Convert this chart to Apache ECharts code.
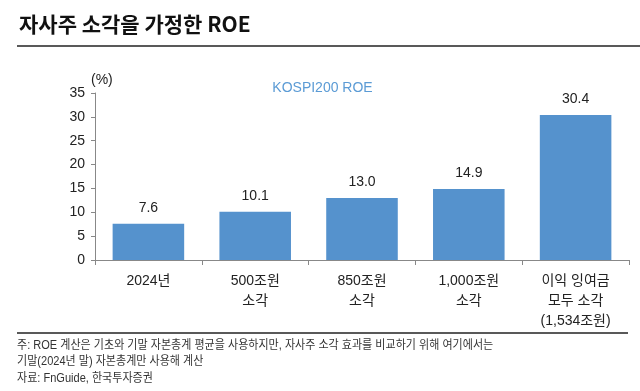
<!DOCTYPE html>
<html><head><meta charset="utf-8">
<script src="https://cdn.jsdelivr.net/npm/echarts@6/dist/echarts.min.js"></script>
<style>html,body{margin:0;padding:0;background:#fff}#c{width:640px;height:391px}</style>
</head><body><div id="c"></div>
<script>
const categories = ['2024년', '500조원\n소각', '850조원\n소각', '1,000조원\n소각', '이익 잉여금\n모두 소각\n(1,534조원)'];
const roeValues = [7.6, 10.1, 13.0, 14.9, 30.4];
const seriesName = 'KOSPI200 ROE';
const yTicks = {min: 0, max: 35, interval: 5};
const titleText = '자사주 소각을 가정한 ROE';
const noteLines = ['주: ROE 계산은 기초와 기말 자본총계 평균을 사용하지만, 자사주 소각 효과를 비교하기 위해 여기에서는', '기말(2024년 말) 자본총계만 사용해 계산', '자료: FnGuide, 한국투자증권'];

const chart = echarts.init(document.getElementById('c'), null, {renderer: 'canvas'});
const kfont = '"Liberation Sans", Arial, "Noto Sans CJK KR", sans-serif';
const nfont = '"Liberation Sans Narrow", "Liberation Sans", "Noto Sans CJK KR", sans-serif';
chart.setOption({
  animation: false,
  backgroundColor: '#fff',
  title: {text: titleText, left: 14, top: 9, textStyle: {fontFamily: '"Noto Sans CJK KR", sans-serif', fontSize: 21, fontWeight: 'bold', color: '#111'}},
  legend: {data: [seriesName], top: 76, left: 'center', icon: 'none', itemWidth: 0, itemGap: 0,
    textStyle: {color: '#5b9bd5', fontSize: 14, fontFamily: kfont}},
  grid: {left: 95, right: 11, top: 93, bottom: 131},
  xAxis: {type: 'category', data: categories,
    axisLine: {lineStyle: {color: '#888'}},
    axisTick: {show: true, alignWithLabel: false, length: 5, lineStyle: {color: '#888'}},
    axisLabel: {color: '#222', fontSize: 14, lineHeight: 20, margin: 11, fontFamily: kfont, interval: 0}},
  yAxis: {type: 'value', min: yTicks.min, max: yTicks.max, interval: yTicks.interval,
    name: '(%)', nameLocation: 'end', nameGap: 6, nameTextStyle: {color: '#222', fontSize: 14, fontFamily: kfont, align: 'left', padding: [0,0,0,-4]},
    axisLine: {show: true, lineStyle: {color: '#888'}},
    axisTick: {show: true, length: 4, lineStyle: {color: '#888'}},
    splitLine: {show: false},
    axisLabel: {color: '#222', fontSize: 14, margin: 10, fontFamily: kfont}},
  series: [{name: seriesName, type: 'bar', data: roeValues, barCategoryGap: '33%',
    itemStyle: {color: '#5592cd'},
    label: {show: true, position: 'top', distance: 9, color: '#222', fontSize: 14, fontFamily: kfont,
      formatter: p => p.value.toFixed(1)}}],
  graphic: [
    {type: 'line', shape: {x1: 17, y1: 46, x2: 640, y2: 46}, style: {stroke: '#222', lineWidth: 1.5}},
    {type: 'line', shape: {x1: 17, y1: 333, x2: 628, y2: 333}, style: {stroke: '#222', lineWidth: 1.5}},
    {type: 'text', x: 17, y: 340, scaleX: 0.92, style: {text: noteLines[0], fill: '#333', font: '12px ' + nfont}},
    {type: 'text', x: 17, y: 356, scaleX: 0.92, style: {text: noteLines[1], fill: '#333', font: '12px ' + nfont}},
    {type: 'text', x: 17, y: 373, scaleX: 0.92, style: {text: noteLines[2], fill: '#333', font: '12px ' + nfont}}
  ]
});
</script></body></html>
